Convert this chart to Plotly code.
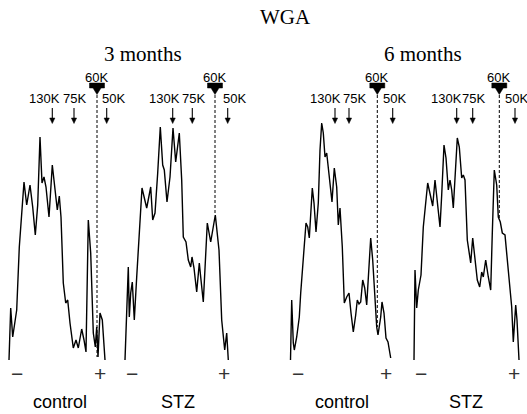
import plotly.graph_objects as go

# ---------------- data (relative migration position, optical density, arbitrary units) -------------
ctrl3_pos = [0, 1.7, 3.7, 7.7, 10.3, 12.7, 15, 17.7, 21, 23.7, 26.3, 28.7, 31, 33, 35, 37, 40, 43.3, 46,
             48.3, 50.3, 52, 54.3, 56.7, 58.7, 61, 64.3, 67, 69.3, 72.7, 75, 77, 79.3, 81.7, 84.3, 86.3,
             87.7, 89, 91, 93.3, 96]
ctrl3_od = [0, 52, 23, 50, 113, 143, 178, 155, 175, 153, 125, 155, 223, 177, 183, 173, 143, 195, 173,
            150, 164, 143, 77, 57, 60, 37, 12, 20, 12, 31, 20, 8, 140, 107, 27, 13, 33, 3, 47, 40, 0]

stz3_pos = [0, 1.7, 3.3, 4.3, 5.7, 7.3, 9.3, 11.7, 14.3, 17, 21.7, 25.7, 27.7, 30, 32.7, 35.3, 37.7, 39.3,
            42, 45, 48, 50.7, 54.3, 56.7, 58.3, 61, 63.3, 65.7, 67, 69, 71.7, 74.3, 75.7, 78.3, 82.3, 85.7,
            90.3, 92.3, 94, 96.7, 99.7, 101.7, 103.3]
stz3_od = [0, 40, 93, 43, 67, 78, 40, 83, 133, 172, 152, 173, 140, 147, 187, 233, 195, 190, 158, 183,
           232, 198, 227, 180, 123, 118, 100, 93, 103, 92, 68, 97, 83, 58, 137, 118, 145, 122, 110, 40, 10,
           27, 0]

ctrl6_pos = [0, 1.2, 2.8, 3.8, 6.2, 8.8, 10.2, 12.8, 15.5, 17.2, 18.8, 21.8, 23.5, 25.5, 27.8, 29.5, 31.2,
             32.8, 34.5, 36.2, 37.8, 41.5, 43.8, 46.2, 47.8, 49.5, 51.8, 53.8, 56.2, 58.5, 60.5, 62.8,
             65.2, 66.8, 68.5, 70.2, 72.2, 74.2, 76.2, 78.5, 80.2, 82.2, 84.5, 86.2, 87.5, 88.8, 90.2,
             91.5, 93.5, 95.5, 97.5, 100.2]
ctrl6_od = [0, 60, 17, 10, 23, 43, 67, 107, 137, 133, 122, 172, 157, 128, 157, 210, 237, 227, 203, 207,
            193, 158, 192, 173, 135, 152, 113, 57, 63, 67, 47, 28, 45, 60, 56, 58, 80, 72, 55, 100, 122,
            100, 60, 33, 25, 33, 43, 58, 47, 22, 18, 2]

stz6_pos = [0, 1, 2.7, 4.3, 7, 9.3, 13.7, 16.7, 18.7, 21, 23.3, 26, 27.7, 30, 32, 34.3, 36, 37.7, 39.3, 41,
            43.3, 45.3, 47.7, 49.3, 51, 53.3, 56.7, 58.7, 61, 63.3, 65.7, 67.7, 69.3, 71.7, 74.3, 76.7,
            78.3, 80.3, 82.7, 84.3, 86.3, 88.3, 91, 94.3, 96.7, 97.7, 99.3, 101.7, 103, 105]
stz6_od = [0, 90, 52, 70, 85, 133, 177, 163, 154, 180, 158, 133, 165, 215, 202, 170, 180, 170, 152, 187,
           222, 213, 182, 185, 180, 120, 97, 122, 103, 80, 73, 88, 83, 100, 83, 70, 127, 190, 175, 143,
           138, 127, 125, 93, 70, 53, 18, 55, 40, 0]

marker_labels = ["130K", "75K", "60K", "50K"]
# arrow positions of the molecular-weight markers in each lane
marker_pos = {
    "ctrl3": [43.3, 65.0, 88.0, 97.7],
    "stz3": [47.7, 67.3, 90.0, 102.7],
    "ctrl6": [44.5, 58.5, 86.8, 102.2],
    "stz6": [42.7, 58.7, 85.3, 101.0],
}
# label centre positions
label_pos = {
    "ctrl3": [35.0, 65.5, 87.5, 104.0],
    "stz3": [39.5, 68.5, 89.5, 109.5],
    "ctrl6": [35.0, 63.5, 85.5, 104.0],
    "stz6": [32.0, 59.5, 84.5, 102.0],
}
# density where the 60K dashed line meets the trace
dash_end = {"ctrl3": 3, "stz3": 145, "ctrl6": 33, "stz6": 140}
# electrode signs
sign_pos = {"ctrl3": (7.5, 90.5), "stz3": (7.0, 99.0), "ctrl6": (7.0, 95.0), "stz6": (6.5, 99.5)}

lane_names = ["control", "STZ", "control", "STZ"]
lane_keys = ["ctrl3", "stz3", "ctrl6", "stz6"]
lane_x = [ctrl3_pos, stz3_pos, ctrl6_pos, stz6_pos]
lane_y = [ctrl3_od, stz3_od, ctrl6_od, stz6_od]
lane_label_x = [60.0, 178.0, 341.5, 465.5]
group_titles = ["3 months", "6 months"]
group_title_x = [143, 423]
main_title = "WGA"

# ---------------- layout ----------------
W, H = 527, 414
origins = [9.0, 125.0, 290.5, 414.0]   # pixel where each lane starts
XR = [-3, 112]

SANS = "Liberation Sans, Arial, sans-serif"
NARROW = "Liberation Sans Narrow, Liberation Sans, Arial, sans-serif"
SERIF = "Liberation Serif, Times New Roman, serif"

fig = go.Figure()
layout = dict(
    width=W, height=H, margin=dict(l=0, r=0, t=0, b=0),
    paper_bgcolor="white", plot_bgcolor="rgba(0,0,0,0)", showlegend=False,
    yaxis=dict(range=[-54, 360], domain=[0, 1], visible=False, fixedrange=True, anchor="x"),
)
shapes, annotations = [], []

for i, key in enumerate(lane_keys):
    ax = "x" if i == 0 else f"x{i+1}"
    axname = "xaxis" if i == 0 else f"xaxis{i+1}"
    o = origins[i]
    layout[axname] = dict(range=XR, domain=[(o + XR[0]) / W, (o + XR[1]) / W],
                          visible=False, fixedrange=True, anchor="y")
    fig.add_trace(go.Scatter(x=lane_x[i], y=lane_y[i], mode="lines", xaxis=ax, yaxis="y",
                             line=dict(color="black", width=1.4), hoverinfo="skip", cliponaxis=False))

    mp = marker_pos[key]
    lp = label_pos[key]
    for j, lab in enumerate(marker_labels):
        xm = mp[j]
        if lab == "60K":
            shapes.append(dict(type="line", xref=ax, yref="y", x0=xm, x1=xm, y0=270, y1=dash_end[key],
                               line=dict(color="black", width=1, dash="3px,2px")))
            path = (f"M {xm-7.5},277 L {xm+7.5},277 L {xm+7.5},272 L {xm+4},272 "
                    f"L {xm},265.5 L {xm-4},272 L {xm-7.5},272 Z")
            shapes.append(dict(type="path", xref=ax, yref="y", path=path,
                               fillcolor="black", line=dict(color="black", width=0.5)))
            annotations.append(dict(text=lab, xref=ax, yref="y", x=lp[j], y=283, showarrow=False,
                                    xanchor="center", yanchor="middle",
                                    font=dict(family=NARROW, size=13, color="black")))
        else:
            shapes.append(dict(type="line", xref=ax, yref="y", x0=xm, x1=xm, y0=252, y1=241,
                               line=dict(color="black", width=1.1)))
            shapes.append(dict(type="path", xref=ax, yref="y",
                               path=f"M {xm-2.6},242 L {xm+2.6},242 L {xm},236.5 Z",
                               fillcolor="black", line=dict(color="black", width=0.5)))
            annotations.append(dict(text=lab, xref=ax, yref="y", x=lp[j], y=262, showarrow=False,
                                    xanchor="center", yanchor="middle",
                                    font=dict(family=NARROW, size=13, color="black")))
    sm, sp = sign_pos[key]
    annotations.append(dict(text="\u2212", xref=ax, yref="y", x=sm, y=-13, showarrow=False,
                            xanchor="center", yanchor="middle",
                            font=dict(family=SANS, size=21, color="#333")))
    annotations.append(dict(text="+", xref=ax, yref="y", x=sp, y=-13, showarrow=False,
                            xanchor="center", yanchor="middle",
                            font=dict(family=SANS, size=21, color="#333")))
    annotations.append(dict(text=lane_names[i], xref="paper", yref="y", x=lane_label_x[i] / W, y=-42,
                            showarrow=False, xanchor="center", yanchor="middle",
                            font=dict(family=SANS, size=18, color="black")))

for t, gx in zip(group_titles, group_title_x):
    annotations.append(dict(text=t, xref="paper", yref="y", x=gx / W, y=306, showarrow=False,
                            xanchor="center", yanchor="middle",
                            font=dict(family=SERIF, size=21, color="black")))
annotations.append(dict(text=main_title, xref="paper", yref="y", x=285 / W, y=343, showarrow=False,
                        xanchor="center", yanchor="middle",
                        font=dict(family=SERIF, size=21, color="black")))

layout["shapes"] = shapes
layout["annotations"] = annotations
fig.update_layout(**layout)
fig.write_html("out.html", config={"displayModeBar": False, "staticPlot": True},
               post_script="document.body.style.margin='0';document.body.style.overflow='hidden';")
